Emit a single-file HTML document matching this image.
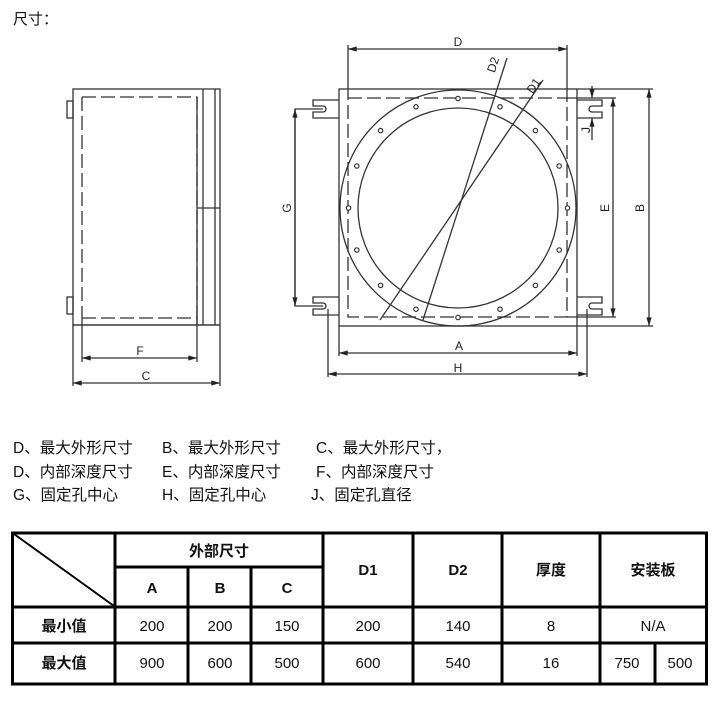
<!DOCTYPE html>
<html><head><meta charset="utf-8"><style>
html,body{margin:0;padding:0;background:#fff}
svg{display:block}
text{font-family:"Liberation Sans","Noto Sans CJK SC",sans-serif}
</style></head><body>
<svg width="719" height="706" viewBox="0 0 719 706" xmlns="http://www.w3.org/2000/svg">
<defs>
<marker id="ar" viewBox="0 0 10 6" refX="10" refY="3" markerWidth="8" markerHeight="4" orient="auto-start-reverse"><path d="M0,0L10,3L0,6z" fill="#222"/></marker>
</defs>
<text x="13" y="24" font-size="15" fill="#111">尺寸：</text>
<g stroke="#333" stroke-width="1.3" fill="none">
<rect x="73" y="89" width="147" height="236"/>
<path d="M82 97H197V318H82" stroke-dasharray="14,5"/>
<line x1="82" y1="97" x2="82" y2="318" stroke-dasharray="14,5"/>
<line x1="197" y1="97" x2="197" y2="325"/>
<line x1="203" y1="89" x2="203" y2="325"/>
<line x1="215" y1="89" x2="215" y2="325"/>
<line x1="197" y1="208" x2="220" y2="208"/>
<line x1="73" y1="325" x2="220" y2="325"/>
<rect x="67" y="101" width="6" height="17"/>
<rect x="67" y="297" width="6" height="17"/>
<line x1="82" y1="318" x2="82" y2="362"/>
<line x1="197" y1="318" x2="197" y2="362"/>
<line x1="73" y1="325" x2="73" y2="386"/>
<line x1="220" y1="325" x2="220" y2="386"/>
<line x1="82" y1="358" x2="197" y2="358" marker-start="url(#ar)" marker-end="url(#ar)"/>
<line x1="73" y1="383" x2="220" y2="383" marker-start="url(#ar)" marker-end="url(#ar)"/>
<rect x="339" y="89" width="238" height="237"/>
<rect x="348" y="98" width="219" height="219" stroke-dasharray="14,5"/>
<circle cx="458" cy="208" r="118"/>
<circle cx="458" cy="208" r="100"/>
<path d="M339 100H313V106H323A3 3 0 0 1 323 112H313V118H339"/>
<path d="M339 297H313V303H323A3 3 0 0 1 323 309H313V315H339"/>
<path d="M577 100H602V106H592A3 3 0 0 0 592 112H602V118H577"/>
<path d="M577 297H602V303H592A3 3 0 0 0 592 309H602V315H577"/>
<line x1="348" y1="98" x2="348" y2="45"/>
<line x1="567" y1="98" x2="567" y2="45"/>
<line x1="348" y1="49" x2="567" y2="49" marker-start="url(#ar)" marker-end="url(#ar)"/>
<line x1="577" y1="89" x2="653" y2="89"/>
<line x1="577" y1="326" x2="653" y2="326"/>
<line x1="649" y1="89" x2="649" y2="326" marker-start="url(#ar)" marker-end="url(#ar)"/>
<line x1="567" y1="98" x2="616" y2="98"/>
<line x1="567" y1="317" x2="616" y2="317"/>
<line x1="613" y1="98" x2="613" y2="317" marker-start="url(#ar)" marker-end="url(#ar)"/>
<line x1="592" y1="86" x2="592" y2="98" marker-end="url(#ar)"/>
<line x1="592" y1="140" x2="592" y2="118" marker-end="url(#ar)"/>
<path d="M323 109H295V306H323"/>
<line x1="295" y1="109" x2="295" y2="306" marker-start="url(#ar)" marker-end="url(#ar)"/>
<line x1="339" y1="326" x2="339" y2="356"/>
<line x1="577" y1="326" x2="577" y2="356"/>
<line x1="339" y1="353" x2="577" y2="353" marker-start="url(#ar)" marker-end="url(#ar)"/>
<line x1="328" y1="309" x2="328" y2="377"/>
<line x1="587" y1="309" x2="587" y2="377"/>
<line x1="328" y1="374" x2="587" y2="374" marker-start="url(#ar)" marker-end="url(#ar)"/>
<line x1="507" y1="58" x2="423" y2="320"/>
<line x1="543" y1="80" x2="380" y2="320"/>
</g>
<g fill="#fff" stroke="#333" stroke-width="1.2">
<circle cx="458" cy="98.5" r="2.2"/><circle cx="500" cy="106.8" r="2.2"/><circle cx="535.4" cy="130.6" r="2.2"/><circle cx="559.2" cy="166" r="2.2"/>
<circle cx="567.5" cy="208" r="2.2"/><circle cx="559.2" cy="250" r="2.2"/><circle cx="535.4" cy="285.4" r="2.2"/><circle cx="500" cy="309.2" r="2.2"/>
<circle cx="458" cy="317.5" r="2.2"/><circle cx="416" cy="309.2" r="2.2"/><circle cx="380.6" cy="285.4" r="2.2"/><circle cx="356.8" cy="250" r="2.2"/>
<circle cx="348.5" cy="208" r="2.2"/><circle cx="356.8" cy="166" r="2.2"/><circle cx="380.6" cy="130.6" r="2.2"/><circle cx="416" cy="106.8" r="2.2"/>
</g>
<g font-size="12" fill="#222" text-anchor="middle">
<text x="140" y="355">F</text><text x="146" y="380">C</text>
<text x="458" y="46">D</text><text x="459" y="350">A</text><text x="458" y="372">H</text>
<text transform="translate(644,208) rotate(-90)">B</text>
<text transform="translate(609,208) rotate(-90)">E</text>
<text transform="translate(590,130) rotate(-90)">J</text>
<text transform="translate(291,208) rotate(-90)">G</text>
<text transform="translate(497,66) rotate(-72)">D2</text>
<text transform="translate(537,88) rotate(-56)">D1</text>
</g>
<g font-size="15.5" fill="#111">
<text x="13" y="453">D、最大外形尺寸</text><text x="162" y="453">B、最大外形尺寸</text><text x="316" y="453">C、最大外形尺寸，</text>
<text x="13" y="477">D、内部深度尺寸</text><text x="162" y="477">E、内部深度尺寸</text><text x="316" y="477">F、内部深度尺寸</text>
<text x="13" y="500">G、固定孔中心</text><text x="162" y="500">H、固定孔中心</text><text x="311" y="500">J、固定孔直径</text>
</g>
<g stroke="#000" stroke-width="3" fill="none">
<rect x="12.5" y="533" width="694" height="151"/>
<line x1="115" y1="533" x2="115" y2="684"/>
<line x1="323" y1="533" x2="323" y2="684"/>
<line x1="413" y1="533" x2="413" y2="684"/>
<line x1="502" y1="533" x2="502" y2="684"/>
<line x1="600" y1="533" x2="600" y2="684"/>
<line x1="188" y1="567" x2="188" y2="684"/>
<line x1="251" y1="567" x2="251" y2="684"/>
<line x1="655" y1="643" x2="655" y2="684"/>
<line x1="115" y1="567" x2="323" y2="567"/>
<line x1="12" y1="607" x2="707" y2="607"/>
<line x1="12" y1="643" x2="707" y2="643"/>
<line x1="14" y1="534" x2="114" y2="606" stroke-width="2"/>
</g>
<g font-size="15" fill="#111" text-anchor="middle">
<text x="219" y="556" font-weight="bold">外部尺寸</text>
<text x="152" y="593" font-weight="bold">A</text><text x="220" y="593" font-weight="bold">B</text><text x="287" y="593" font-weight="bold">C</text>
<text x="368" y="575" font-weight="bold">D1</text><text x="458" y="575" font-weight="bold">D2</text>
<text x="551" y="575" font-weight="bold">厚度</text><text x="653" y="575" font-weight="bold">安装板</text>
<text x="64" y="631" font-weight="bold">最小值</text>
<text x="152" y="631">200</text><text x="220" y="631">200</text><text x="287" y="631">150</text>
<text x="368" y="631">200</text><text x="458" y="631">140</text><text x="551" y="631">8</text><text x="653" y="631">N/A</text>
<text x="64" y="668" font-weight="bold">最大值</text>
<text x="152" y="668">900</text><text x="220" y="668">600</text><text x="287" y="668">500</text>
<text x="368" y="668">600</text><text x="458" y="668">540</text><text x="551" y="668">16</text><text x="627" y="668">750</text><text x="680" y="668">500</text>
</g>
</svg>
</body></html>
